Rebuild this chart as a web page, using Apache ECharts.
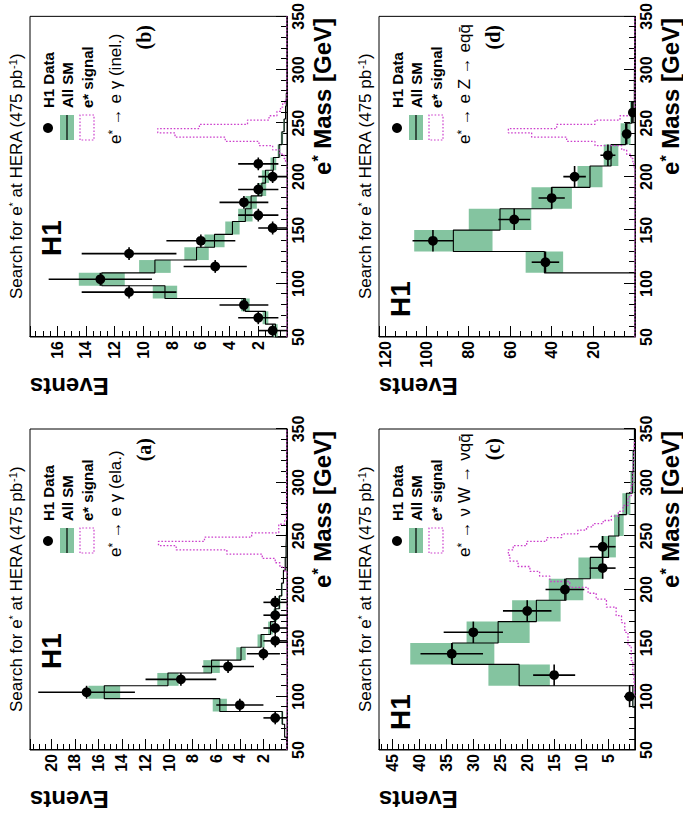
<!DOCTYPE html>
<html><head><meta charset="utf-8">
<script src="https://cdn.jsdelivr.net/npm/echarts@6/dist/echarts.min.js"></script>
<style>
html,body{margin:0;padding:0;background:#fff;width:683px;height:816px;overflow:hidden;}
#rot{position:absolute;left:0;top:0;width:816px;height:683px;transform-origin:0 0;transform:translate(0px,816px) rotate(-90deg);}
</style></head><body><div id="rot"></div>
<script>
// ---------- Panel (a): e* -> e gamma (elastic) ----------
const binCentersA = [56, 68, 80, 92, 104, 116, 128, 140, 152, 164, 176, 188, 200, 212, 224, 236, 248];
const smA    = [0.05, 0.2, 0.4, 5.7, 15.5, 10.1, 6.4, 3.9, 2.2, 1.4, 1.0, 0.65, 0.45, 0.3, 0.15, 0.08, 0.04];
const smErrA = [0.01, 0.03, 0.08, 0.6, 1.35, 0.9, 0.7, 0.4, 0.3, 0.2, 0.15, 0.1, 0.07, 0.05, 0.03, 0.02, 0.01];
const dataMassA = [80, 92, 104, 116, 128, 140, 152, 164, 176, 188];
const dataA     = [1, 4, 17, 9, 5, 2, 1, 1, 1, 1];
const dataErrA  = [1.0, 2.0, 4.1, 3.0, 2.2, 1.4, 1.0, 1.0, 1.0, 1.0];
const sigMassA = [219, 223, 227, 231, 235, 239, 243, 247, 251, 255, 259, 263, 267];
const sigA     = [0.2, 0.6, 1.0, 2.1, 5.1, 9.4, 10.9, 7.0, 3.0, 0.7, 0.7, 0.2, 0.05];

// ---------- Panel (b): e* -> e gamma (inelastic) ----------
const binCentersB = [56, 68, 80, 92, 104, 116, 128, 140, 152, 164, 176, 188, 200, 212, 224, 236, 248, 260, 272];
const smB    = [0.8, 1.5, 2.9, 8.5, 12.9, 9.2, 6.3, 5.05, 3.8, 2.9, 2.5, 1.75, 1.5, 0.95, 0.55, 0.35, 0.2, 0.1, 0.05];
const smErrB = [0.15, 0.2, 0.3, 0.85, 1.6, 1.1, 0.85, 0.7, 0.5, 0.5, 0.4, 0.3, 0.25, 0.2, 0.1, 0.08, 0.05, 0.03, 0.02];
const dataMassB = [56, 68, 80, 92, 104, 116, 128, 140, 152, 164, 176, 188, 200, 212];
const dataB     = [1, 2, 3, 11, 13, 5, 11, 6, 1, 2, 3, 2, 1, 2];
const dataErrB  = [1.0, 1.4, 1.7, 3.3, 3.6, 2.2, 3.3, 2.4, 1.0, 1.4, 1.7, 1.4, 1.0, 1.4];
const sigMassB = [215, 219, 223, 227, 231, 235, 239, 243, 247, 251, 255, 259, 263, 267, 271];
const sigB     = [0.1, 0.2, 0.5, 1.0, 1.95, 4.3, 7.8, 9.0, 6.1, 2.75, 1.25, 0.7, 0.45, 0.3, 0.1];

// ---------- Panel (c): e* -> nu W -> nu q qbar ----------
const binCentersC = [100, 120, 140, 160, 180, 200, 220, 240, 260, 280, 300, 320, 340];
const smC    = [0.4, 21.5, 33.9, 25.4, 18.3, 12.8, 8.3, 4.9, 3.0, 1.6, 0.5, 0.3, 0.1];
const smErrC = [0.1, 5.7, 7.8, 5.85, 4.5, 3.2, 2.2, 1.35, 0.9, 0.75, 0.35, 0.2, 0.1];
const dataMassC = [100, 120, 140, 160, 180, 200, 220, 240];
const dataC     = [1, 15, 34, 30, 20, 13, 6, 6];
const dataErrC  = [1.0, 3.9, 5.8, 5.5, 4.5, 3.6, 2.4, 2.4];
const sigMassC = [104, 116, 126, 141, 154, 166, 172, 179, 188, 194, 199, 205, 210, 215, 219, 224, 229, 235, 239, 243, 247, 250, 254, 257, 260, 263, 266, 271, 275, 282, 291, 303, 313, 322, 330, 340];
const sigC     = [0.1, 0.2, 0.4, 0.7, 1.3, 1.9, 2.5, 3.5, 5.3, 7.2, 8.7, 12.1, 15.8, 17.7, 19.5, 21.7, 23.2, 23.5, 22.6, 20.1, 16.4, 13.6, 10.6, 9.0, 7.8, 5.9, 4.4, 3.1, 2.2, 1.3, 0.7, 0.4, 0.35, 0.25, 0.15, 0.05];

// ---------- Panel (d): e* -> e Z -> e q qbar ----------
const binCentersD = [120, 140, 160, 180, 200, 220, 240, 260, 280];
const smD    = [43.5, 87.2, 64.8, 40.0, 21.6, 11.5, 4.5, 1.6, 0.3];
const smErrD = [9.0, 18.8, 15.0, 9.7, 6.0, 3.5, 2.4, 0.8, 0.2];
const dataMassD = [120, 140, 160, 180, 200, 220, 240, 260];
const dataD     = [43, 97, 58, 40, 29, 13, 4, 1];
const dataErrD  = [6.6, 9.8, 7.6, 6.3, 5.4, 3.6, 2.0, 1.0];
const sigMassD = [211, 215, 219, 223, 227, 231, 235, 239, 243, 247, 251, 255, 259, 263];
const sigD     = [0.5, 1.0, 2.0, 4.0, 6.4, 19.2, 32.8, 49.6, 60.8, 37.6, 19.2, 7.2, 1.6, 0.5];

// ---------- Text ----------
const legendLabels = ['H1 Data', 'All SM', 'e* signal'];
const panelLetters = ['(a)', '(b)', '(c)', '(d)'];
const yAxisTitle = 'Events';

const FONT = '"Liberation Sans", Arial, Helvetica, sans-serif';
const SERIF = '"Liberation Serif", "Times New Roman", serif';
const GREEN = '#84c4a0';
const MAGENTA = '#cc3fcc';

const panels = [
  {key:'a', grid:{left:66, top:30, width:321, height:257}, ymax:21.8, yint:2, ymin:4, bw:12,
   centers:binCentersA, sm:smA, smErr:smErrA, dm:dataMassA, d:dataA, de:dataErrA, sm_:sigMassA, sig:sigA, sigStep:'bins',
   proc:[['e'],['*','sup'],[' \u2192 e \u03b3 (ela.)']], h1x:81},
  {key:'b', grid:{left:479, top:30, width:321, height:257}, ymax:17.9, yint:2, ymin:4, bw:12,
   centers:binCentersB, sm:smB, smErr:smErrB, dm:dataMassB, d:dataB, de:dataErrB, sm_:sigMassB, sig:sigB, sigStep:'bins',
   proc:[['e'],['*','sup'],[' \u2192 e \u03b3 (inel.)']], h1x:81},
  {key:'c', grid:{left:66, top:379, width:321, height:256}, ymax:47.5, yint:5, ymin:5, bw:20,
   centers:binCentersC, sm:smC, smErr:smErrC, dm:dataMassC, d:dataC, de:dataErrC, sm_:sigMassC, sig:sigC, sigStep:'samples',
   proc:[['e'],['*','sup'],[' \u2192 \u03bd W \u2192 \u03bdq\u0071\u0304']], h1x:20},
  {key:'d', grid:{left:479, top:379, width:321, height:256}, ymax:122.9, yint:20, ymin:4, bw:20,
   centers:binCentersD, sm:smD, smErr:smErrD, dm:dataMassD, d:dataD, de:dataErrD, sm_:sigMassD, sig:sigD, sigStep:'bins',
   proc:[['e'],['*','sup'],[' \u2192 e Z \u2192 eq\u0071\u0304']], h1x:20}
];

function histPts(centers, vals, bw) {
  const pts = [[50, 0]];
  for (let i = 0; i < centers.length; i++) pts.push([centers[i] - bw / 2, vals[i]]);
  const last = centers[centers.length - 1] + bw / 2;
  pts.push([last, vals[vals.length - 1]]);
  pts.push([last, 0]);
  if (last < 350) pts.push([350, 0]);
  return pts;
}

const grids = [], xAxes = [], yAxes = [], series = [], graphics = [];

function richText(parts) {
  let s = '';
  parts.forEach(p => { s += p[1] ? '{' + p[1] + '|' + p[0] + '}' : '{n|' + p[0] + '}'; });
  return s;
}

panels.forEach((p, i) => {
  const g = p.grid;
  grids.push(Object.assign({show:true, borderColor:'#000', borderWidth:1, backgroundColor:'transparent'}, g));
  xAxes.push({
    type:'value', gridIndex:i, min:50, max:350, interval:50, position:'bottom',
    axisLine:{show:true, onZero:false, lineStyle:{color:'#000', width:1}},
    axisTick:{show:true, inside:true, length:11, lineStyle:{color:'#000', width:1}},
    minorTick:{show:true, splitNumber:5, length:6, lineStyle:{color:'#000', width:1}},
    splitLine:{show:false},
    axisLabel:{show:true, margin:3, color:'#000', fontFamily:FONT, fontWeight:'bold', fontSize:16}
  });
  yAxes.push({
    type:'value', gridIndex:i, min:0, max:p.ymax, interval:p.yint, position:'left',
    axisLine:{show:true, onZero:false, lineStyle:{color:'#000', width:1}},
    axisTick:{show:true, inside:true, length:11, lineStyle:{color:'#000', width:1}},
    minorTick:{show:true, splitNumber:p.ymin, length:6, lineStyle:{color:'#000', width:1}},
    splitLine:{show:false},
    axisLabel:{show:true, margin:4, color:'#000', fontFamily:FONT, fontWeight:'bold', fontSize:16,
               showMinLabel:false, showMaxLabel:false}
  });

  // SM uncertainty band
  series.push({
    type:'custom', xAxisIndex:i, yAxisIndex:i, z:1, clip:true, silent:true,
    data: p.centers.map((c, k) => [c, p.sm[k], p.smErr[k], p.bw / 2]),
    renderItem: function (params, api) {
      const c = api.value(0), v = api.value(1), e = api.value(2), hw = api.value(3);
      const a = api.coord([c - hw, v + e]);
      const b = api.coord([c + hw, Math.max(0, v - e)]);
      return {type:'rect', shape:{x:a[0], y:a[1], width:b[0] - a[0], height:b[1] - a[1]},
              style:{fill:GREEN, stroke:null}};
    }
  });
  // SM histogram line
  series.push({
    type:'line', xAxisIndex:i, yAxisIndex:i, z:2, step:'end', showSymbol:false, silent:true,
    data: histPts(p.centers, p.sm, p.bw),
    lineStyle:{color:'#000', width:1.1}
  });
  // Signal
  let sigData;
  if (p.sigStep === 'bins') sigData = histPts(p.sm_, p.sig, 4);
  else sigData = [[p.sm_[0] - 4, 0]].concat(p.sm_.map((m, k) => [m, p.sig[k]]));
  series.push({
    type:'line', xAxisIndex:i, yAxisIndex:i, z:3, step: p.sigStep === 'bins' ? 'end' : 'middle',
    showSymbol:false, silent:true, data: sigData,
    lineStyle:{color:MAGENTA, width:1.3, type:[1.6, 1.8]}
  });
  // Data points with error bars
  series.push({
    type:'custom', xAxisIndex:i, yAxisIndex:i, z:4, clip:true, silent:true,
    data: p.dm.map((m, k) => [m, p.d[k], p.de[k], p.bw / 2]),
    renderItem: function (params, api) {
      const m = api.value(0), n = api.value(1), e = api.value(2), hw = api.value(3);
      const c = api.coord([m, n]);
      const lo = api.coord([m, Math.max(0, n - e)]);
      const hi = api.coord([m, n + e]);
      const l = api.coord([m - hw, n]);
      const r = api.coord([m + hw, n]);
      return {type:'group', children:[
        {type:'line', shape:{x1:c[0], y1:lo[1], x2:c[0], y2:hi[1]}, style:{stroke:'#000', lineWidth:1.6}},
        {type:'line', shape:{x1:l[0], y1:c[1], x2:r[0], y2:c[1]}, style:{stroke:'#000', lineWidth:1.6}},
        {type:'circle', shape:{cx:c[0], cy:c[1], r:4.9}, style:{fill:'#000'}}
      ]};
    }
  });

  const fl = g.left, ft = g.top, fr = g.left + g.width, fb = g.top + g.height;
  // Title
  graphics.push({type:'text', x:fl + 38, y:ft - 14, silent:true,
    style:{text:'{n|Search for e}{s|*}{n| at HERA (475 pb}{s|-1}{n|)}', align:'left', verticalAlign:'middle',
      fill:'#000', font:'17px ' + FONT,
      rich:{n:{fontSize:17, fontFamily:FONT, fill:'#000', verticalAlign:'bottom'},
            s:{fontSize:11, fontFamily:FONT, fill:'#000', verticalAlign:'top'}}}});
  // H1 label
  graphics.push({type:'text', x:fl + p.h1x, y:ft + 21, silent:true,
    style:{text:'H1', align:'left', verticalAlign:'middle', fill:'#000', font:'bold 28px ' + FONT}});
  // Legend
  const lx = fl + 209;
  graphics.push({type:'circle', silent:true, shape:{cx:lx, cy:ft + 18, r:5}, style:{fill:'#000'}});
  graphics.push({type:'rect', silent:true, shape:{x:lx - 12, y:ft + 30, width:25, height:14}, style:{fill:GREEN}});
  graphics.push({type:'line', silent:true, shape:{x1:lx - 12, y1:ft + 37, x2:lx + 13, y2:ft + 37}, style:{stroke:'#000', lineWidth:1.2}});
  graphics.push({type:'rect', silent:true, shape:{x:lx - 12, y:ft + 50, width:25, height:14},
    style:{fill:'none', stroke:MAGENTA, lineWidth:1.2, lineDash:[1.6, 1.8]}});
  [18, 37.5, 57].forEach((dy, k) => {
    graphics.push({type:'text', x:fl + 229, y:ft + dy, silent:true,
      style:{text:legendLabels[k], align:'left', verticalAlign:'middle', fill:'#000', font:'bold 15px ' + FONT}});
  });
  // Process label
  graphics.push({type:'text', x:fl + 193, y:ft + 85, silent:true,
    style:{text:richText(p.proc), align:'left', verticalAlign:'middle', fill:'#000', font:'17px ' + FONT,
      rich:{n:{fontSize:17, fontFamily:FONT, fill:'#000', verticalAlign:'bottom'},
            sup:{fontSize:12, fontFamily:FONT, fill:'#000', verticalAlign:'top'}}}});
  // Panel letter
  graphics.push({type:'text', x:fl + 312, y:ft + 114, silent:true,
    style:{text:panelLetters[i], align:'right', verticalAlign:'middle', fill:'#000', font:'bold 20px ' + SERIF}});
  // Axis titles
  graphics.push({type:'text', x:fr - 2, y:fb + 35, silent:true,
    style:{text:'{n|e}{s|*}{n| Mass [GeV]}', align:'right', verticalAlign:'middle', fill:'#000', font:'bold 24px ' + FONT,
      rich:{n:{fontSize:24, fontWeight:'bold', fontFamily:FONT, fill:'#000', verticalAlign:'bottom'},
            s:{fontSize:16, fontWeight:'bold', fontFamily:FONT, fill:'#000', verticalAlign:'top'}}}});
  graphics.push({type:'text', x:fl - 49, y:ft, rotation:Math.PI / 2, silent:true,
    style:{text:yAxisTitle, align:'right', verticalAlign:'middle', fill:'#000', font:'bold 24px ' + FONT}});
});

const chart = echarts.init(document.getElementById('rot'), null, {renderer:'svg', width:816, height:683});
chart.setOption({
  animation:false,
  backgroundColor:'#fff',
  grid:grids, xAxis:xAxes, yAxis:yAxes, series:series,
  graphic:{elements:graphics}
});
</script></body></html>
